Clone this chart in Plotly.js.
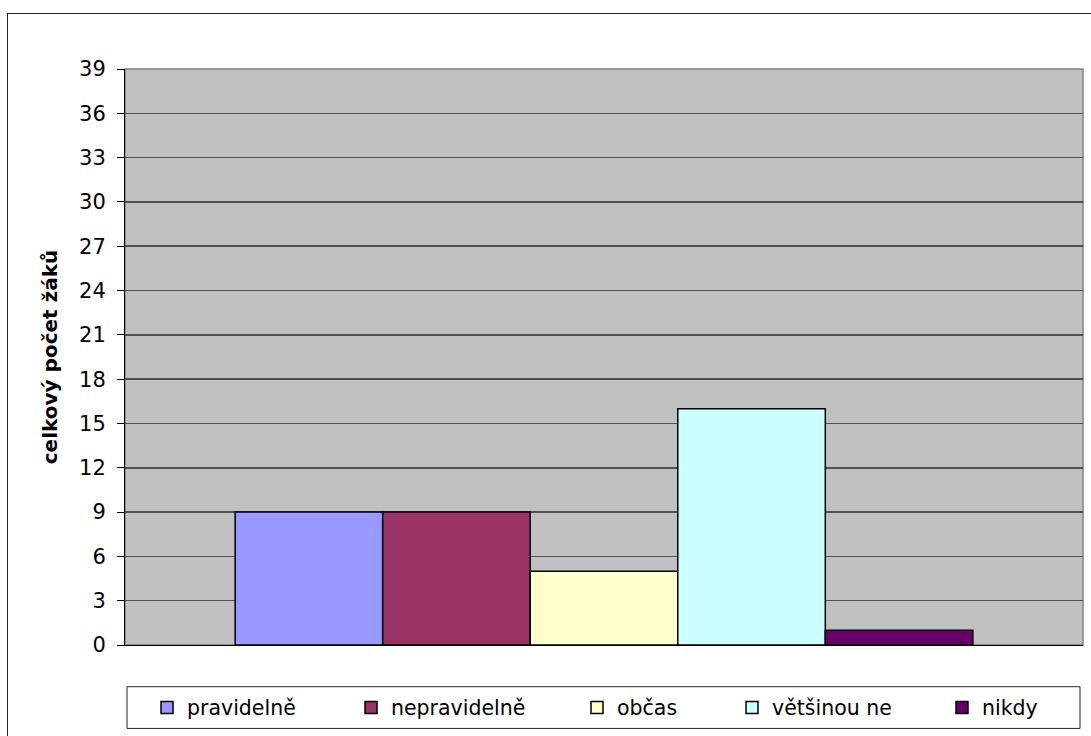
<!DOCTYPE html>
<html>
<head>
<meta charset="utf-8">
<script src="https://cdn.plot.ly/plotly-3.0.1.min.js"></script>
<style>
  html, body { margin: 0; padding: 0; background: #ffffff; overflow: hidden; }
  #frame { position: absolute; left: 7px; top: 13px; width: 1200px; height: 900px;
           border: 1px solid #222; pointer-events: none; z-index: 5; }
  #chart { position: absolute; left: 0; top: 0; width: 1091px; height: 736px; }
</style>
</head>
<body>
<div id="chart"></div>
<div id="frame"></div>
<script>
// ---- data ----
const seriesNames = ['pravidelně', 'nepravidelně', 'občas', 'většinou ne', 'nikdy'];
const seriesValues = [9, 9, 5, 16, 1];
const seriesColors = ['#9999FF', '#993366', '#FFFFCC', '#CCFFFF', '#660066'];
const category = [''];
const yTitle = 'celkový počet žáků';
const yTickValues = [0, 3, 6, 9, 12, 15, 18, 21, 24, 27, 30, 33, 36, 39];

// ---- layout geometry ----
const W = 1091, H = 736;
const M = { l: 125, r: 8, t: 69, b: 87 };
const PW = W - M.l - M.r, PH = H - M.t - M.b;
const px2x = p => (p - M.l) / PW;
const py2y = p => (H - M.b - p) / PH;

// legend text start positions (pixels) for each entry
const legendTextStart = [187, 391, 617, 772, 982];

const traces = seriesNames.map((name, i) => ({
  type: 'bar',
  name: name,
  x: category,
  y: [seriesValues[i]],
  marker: { color: seriesColors[i], line: { color: '#000000', width: 1.5 } },
  legend: i === 0 ? 'legend' : 'legend' + (i + 1),
  hoverinfo: 'name+y'
}));

const layout = {
  width: W, height: H,
  margin: M,
  paper_bgcolor: 'rgba(0,0,0,0)',
  plot_bgcolor: '#C0C0C0',
  barmode: 'group',
  bargap: 0.23,
  bargroupgap: 0,
  font: { family: 'DejaVu Sans, Arial, sans-serif', color: '#000000' },
  xaxis: {
    type: 'category',
    showticklabels: false,
    ticks: '',
    showgrid: false,
    showline: true, linecolor: '#000000', linewidth: 1,
    zeroline: false,
    fixedrange: true
  },
  yaxis: {
    range: [0, 39],
    tickvals: yTickValues,
    ticktext: yTickValues.map(String),
    ticks: 'outside', ticklen: 7, tickcolor: '#000000', tickwidth: 1,
    ticklabelstandoff: 7,
    tickfont: { family: 'DejaVu Sans, Arial, sans-serif', size: 21, color: '#000000' },
    showgrid: true, gridcolor: '#505050', gridwidth: 1.5,
    showline: true, linecolor: '#000000', linewidth: 1,
    zeroline: false,
    automargin: false,
    title: { text: yTitle, standoff: 16,
             font: { family: 'DejaVu Sans, Arial, sans-serif', size: 20, weight: 'bold', color: '#000000' } },
    fixedrange: true
  },
  showlegend: true,
  shapes: [
    { // plot-area frame (top / right edges)
      type: 'rect', xref: 'paper', yref: 'paper', layer: 'below',
      x0: 0, x1: 1, y0: 0, y1: 1,
      line: { color: '#808080', width: 1.5 }, fillcolor: 'rgba(0,0,0,0)'
    },
    { // legend frame
      type: 'rect', xref: 'paper', yref: 'paper',
      x0: px2x(127), x1: px2x(1080), y0: py2y(691), y1: py2y(733),
      line: { color: '#222222', width: 1 }, fillcolor: 'rgba(0,0,0,0)'
    }
  ]
};

seriesNames.forEach((n, i) => {
  const key = i === 0 ? 'legend' : 'legend' + (i + 1);
  layout[key] = {
    orientation: 'h',
    x: px2x(legendTextStart[i] - 40), xanchor: 'left',
    y: py2y(712), yanchor: 'middle',
    bgcolor: 'rgba(0,0,0,0)', borderwidth: 0,
    font: { family: 'DejaVu Sans, Arial, sans-serif', size: 20.5, color: '#000000' }
  };
});

Plotly.newPlot('chart', traces, layout, { displayModeBar: false, staticPlot: true });
</script>
</body>
</html>
